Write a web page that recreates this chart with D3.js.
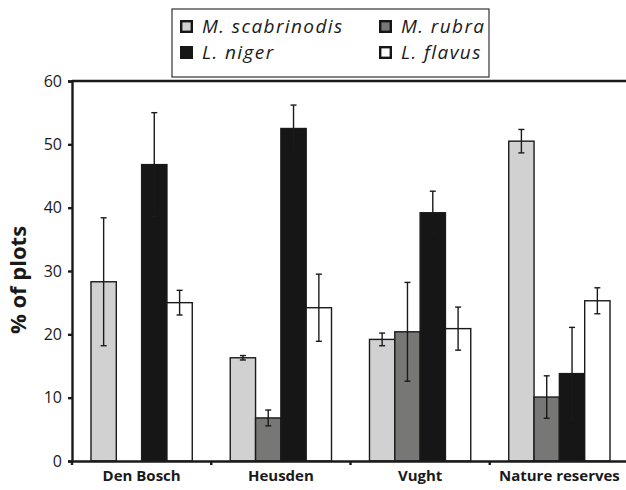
<!DOCTYPE html>
<html>
<head>
<meta charset="utf-8">
<script src="https://cdn.jsdelivr.net/npm/d3@7"></script>
<style>
  body { margin: 0; background: #fff; }
  svg { display: block; font-family: "Open Sans", sans-serif; }
</style>
</head>
<body>
<div id="chart"></div>
<script>
// categories and series
var sites = ["Den Bosch", "Heusden", "Vught", "Nature reserves"];
var species = ["M. scabrinodis", "M. rubra", "L. niger", "L. flavus"];
var colors = ["#d0d1d0", "#777776", "#161616", "#ffffff"];

// mean % of plots, one array per species (order of sites)
var scabrinodis = [28.3, 16.3, 19.2, 50.5];
var rubra = [0, 6.8, 20.4, 10.1];
var niger = [46.8, 52.5, 39.2, 13.8];
var flavus = [25.0, 24.2, 20.9, 25.3];

// error (half length of bar)
var scabrinodisErr = [10.1, 0.35, 1.0, 1.85];
var rubraErr = [0, 1.25, 7.8, 3.35];
var nigerErr = [8.2, 3.7, 3.4, 7.3];
var flavusErr = [1.95, 5.3, 3.4, 2.05];

var yTicks = [0, 10, 20, 30, 40, 50, 60];

var means = [scabrinodis, rubra, niger, flavus];
var errs = [scabrinodisErr, rubraErr, nigerErr, flavusErr];

var rows = [];
sites.forEach(function (s, i) {
    species.forEach(function (sp, j) {
        rows.push({ site: s, sp: sp, idx: j, v: means[j][i], e: errs[j][i] });
    });
});

var W = 626, H = 490;
var margin = { top: 81, left: 72, bottom: 29, right: -3 };

var svg = d3.select("#chart").append("svg")
    .attr("width", W)
    .attr("height", H);

var x0 = d3.scaleBand()
    .domain(sites)
    .range([margin.left, W - margin.right]);

var x1 = d3.scaleBand()
    .domain(species)
    .range([0, x0.bandwidth()])
    .paddingOuter(0.75);

var y = d3.scaleLinear()
    .domain([0, 60])
    .range([H - margin.bottom, margin.top]);

// bars
svg.selectAll("rect.bar")
    .data(rows.filter(function (d) { return d.v > 0; }))
    .enter()
    .append("rect")
    .attr("class", "bar")
    .attr("x", function (d) { return x0(d.site) + x1(d.sp); })
    .attr("y", function (d) { return y(d.v); })
    .attr("width", x1.bandwidth())
    .attr("height", function (d) { return y(0) - y(d.v); })
    .style("fill", function (d) { return colors[d.idx]; })
    .style("stroke", "#1a1a1a")
    .style("stroke-width", 1.4);

// error bars
var eb = svg.selectAll("g.err")
    .data(rows.filter(function (d) { return d.e > 0; }))
    .enter()
    .append("g")
    .attr("class", "err")
    .attr("transform", function (d) {
        return "translate(" + (x0(d.site) + x1(d.sp) + x1.bandwidth() / 2) + ",0)";
    });

eb.append("line")
    .attr("y1", function (d) { return y(d.v + d.e); })
    .attr("y2", function (d) { return y(d.v - d.e); })
    .style("stroke", "#1a1a1a")
    .style("stroke-width", 1.4);

eb.selectAll("line.cap")
    .data(function (d) { return [d.v + d.e, d.v - d.e]; })
    .enter()
    .append("line")
    .attr("class", "cap")
    .attr("x1", -3)
    .attr("x2", 3)
    .attr("y1", function (v) { return y(v); })
    .attr("y2", function (v) { return y(v); })
    .style("stroke", "#1a1a1a")
    .style("stroke-width", 1.4);

// top frame line
svg.append("line")
    .attr("x1", margin.left)
    .attr("x2", W)
    .attr("y1", y(60))
    .attr("y2", y(60))
    .style("stroke", "#1a1a1a")
    .style("stroke-width", 2.4);

// y axis
var yAxis = svg.append("g")
    .attr("transform", "translate(" + margin.left + ",0)")
    .call(d3.axisLeft(y).tickValues(yTicks).tickSize(4).tickPadding(6));
yAxis.select(".domain").style("stroke", "#1a1a1a").style("stroke-width", 2.4);
yAxis.selectAll(".tick line").style("stroke", "#1a1a1a").style("stroke-width", 2.4);
yAxis.selectAll("text")
    .style("font-family", "Open Sans")
    .style("font-size", "16px")
    .style("fill", "#1a1a1a");

// x axis
var xAxis = svg.append("g")
    .attr("transform", "translate(0," + y(0) + ")")
    .call(d3.axisBottom(x0).tickSize(0).tickPadding(9));
xAxis.select(".domain").style("stroke", "#1a1a1a").style("stroke-width", 2.4);
xAxis.selectAll("text")
    .style("font-family", "Open Sans")
    .style("font-size", "15px")
    .style("font-weight", "bold")
    .style("fill", "#1a1a1a");

// category boundary ticks
xAxis.selectAll("line.sep")
    .data(sites)
    .enter()
    .append("line")
    .attr("class", "sep")
    .attr("x1", function (d) { return x0(d); })
    .attr("x2", function (d) { return x0(d); })
    .attr("y1", 0)
    .attr("y2", 4)
    .style("stroke", "#1a1a1a")
    .style("stroke-width", 2.4);

// y title
svg.append("text")
    .attr("transform", "translate(26," + 280 + ") rotate(-90)")
    .attr("text-anchor", "middle")
    .style("font-size", "22px")
    .style("font-weight", "bold")
    .style("fill", "#1a1a1a")
    .text("% of plots");

// legend
var legend = svg.append("g").attr("transform", "translate(172,9)");
legend.append("rect")
    .attr("width", 317)
    .attr("height", 68)
    .style("fill", "#fff")
    .style("stroke", "#333")
    .style("stroke-width", 1.2);

var item = legend.selectAll("g.item")
    .data(species)
    .enter()
    .append("g")
    .attr("class", "item")
    .attr("transform", function (d, i) {
        return "translate(" + (i % 2 === 0 ? 8 : 207) + "," + (i < 2 ? 11 : 37) + ")";
    });

item.append("rect")
    .attr("x", 1.2)
    .attr("y", 1.2)
    .attr("width", 10.6)
    .attr("height", 10.6)
    .style("fill", function (d, i) { return colors[i]; })
    .style("stroke", "#161616")
    .style("stroke-width", 2.4);

item.append("text")
    .attr("x", 22)
    .attr("y", 13)
    .style("font-size", "19px")
    .style("letter-spacing", "1.4px")
    .style("font-style", "italic")
    .style("fill", "#1a1a1a")
    .text(function (d) { return d; });
</script>
</body>
</html>
